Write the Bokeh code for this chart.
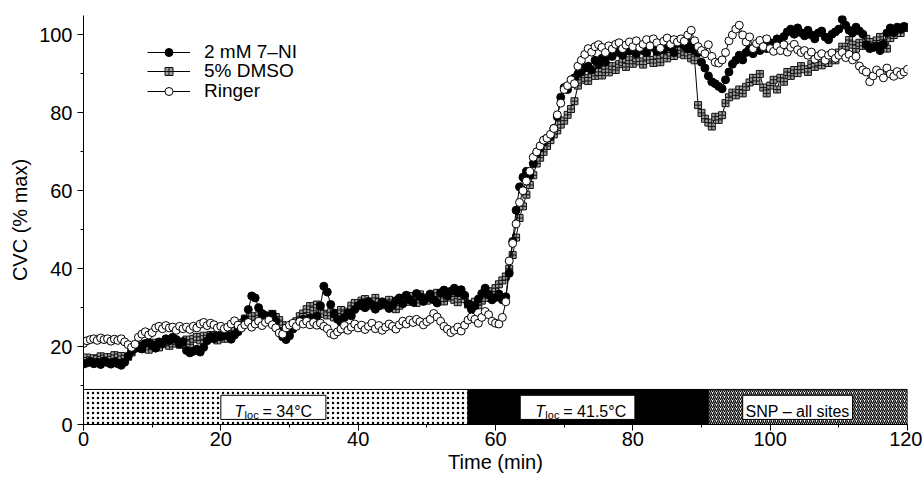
from bokeh.plotting import figure
from bokeh.models import Range1d, SingleIntervalTicker, Legend, LegendItem, Label
from bokeh.embed import file_html
from bokeh.resources import INLINE

# sample times (min), one reading every 0.5 min
time_min = [i * 0.5 for i in range(241)]

ni7 = [
    15.5, 15.8, 16.2, 15.6, 16.0, 15.4, 16.3, 15.9, 15.5, 16.1,
    15.6, 15.2, 16.0, 17.5, 18.8, 19.5, 20.2, 19.4, 20.8, 21.0,
    20.5, 19.6, 21.2, 20.8, 22.0, 21.5, 22.4, 21.8, 20.6, 21.3,
    19.0, 18.4, 18.8, 19.3, 18.6, 19.8, 21.5, 22.6, 22.0, 23.2,
    22.5, 23.4, 22.8, 21.9, 23.0, 23.8, 25.0, 27.0, 29.5, 33.0,
    32.5, 30.0, 28.5, 28.0, 27.5, 28.2, 26.5, 24.0, 22.5, 21.8,
    22.8, 24.5, 25.7, 26.5, 27.0, 26.2, 27.4, 26.8, 27.8, 30.5,
    35.5, 34.0, 30.8, 28.5, 27.0, 26.2, 27.5, 28.6, 27.9, 29.5,
    30.5, 31.2, 30.0, 31.6, 30.8, 29.6, 30.4, 31.5, 30.9, 29.8,
    30.6, 31.8, 32.5, 31.0, 33.2, 32.0, 31.4, 33.6, 32.8, 31.6,
    32.4, 33.5, 32.0, 31.2, 33.8, 34.5, 33.0, 34.2, 35.0, 33.8,
    34.6, 33.2, 31.0, 29.6, 30.5, 32.2, 33.6, 35.0, 33.4, 32.0,
    32.6, 33.5, 32.0, 32.8, 38.8, 47.0, 55.0, 61.0, 63.5, 65.0,
    64.0, 67.0, 69.5, 71.0, 72.5, 73.5, 74.0, 76.0, 79.0, 84.0,
    86.5, 86.0, 87.5, 89.0, 90.0, 90.5, 91.5, 92.0, 91.0, 93.5,
    92.5, 94.0, 93.0, 95.0, 94.5, 96.0, 95.5, 94.8, 96.5, 95.8,
    96.5, 95.2, 97.0, 96.0, 95.5, 97.2, 96.8, 95.8, 97.5, 96.2,
    97.6, 96.8, 95.5, 97.9, 98.4, 97.2, 96.5, 98.0, 96.0, 95.5,
    93.0, 91.5, 89.5, 88.0, 87.5, 86.8, 86.2, 88.5, 90.5, 92.5,
    93.5, 94.8, 93.6, 95.5, 96.5, 95.2, 97.0, 96.0, 97.8, 96.5,
    98.0, 97.2, 99.0, 98.4, 99.6, 100.8, 101.5, 100.2, 101.8, 100.6,
    99.8, 101.2, 100.0, 99.0, 100.5, 101.0, 99.5, 98.8, 100.2, 100.8,
    101.5, 104.0, 102.5, 101.2, 100.5, 102.0, 101.0, 100.2, 97.5, 96.5,
    96.8, 97.2, 96.0, 97.6, 100.5, 101.8, 100.6, 102.0, 101.5, 102.2,
    102.0,
]

dmso = [
    16.8, 17.2, 16.5, 17.0, 16.8, 17.5, 16.9, 17.3, 16.6, 17.8,
    17.2, 17.6, 16.9, 17.4, 18.5, 19.8, 20.3, 19.5, 20.6, 19.2,
    20.4, 21.0, 19.8, 20.6, 21.4, 20.2, 20.8, 21.5, 20.5, 21.2,
    21.8, 20.6, 22.0, 22.5, 21.6, 22.8, 22.0, 23.0, 22.2, 21.6,
    22.8, 22.0, 23.4, 23.8, 25.0, 26.0, 25.4, 27.2, 26.5, 27.8,
    26.8, 28.0, 27.2, 26.6, 27.5, 28.4, 27.6, 26.8, 25.5, 24.8,
    24.6, 25.8, 26.5, 27.8, 28.5, 29.6, 30.4, 29.2, 30.8, 29.5,
    28.4, 28.0, 28.8, 27.5, 28.6, 29.4, 28.2, 29.0, 30.5, 31.2,
    30.4, 31.8, 32.2, 31.0, 30.5, 32.5, 31.4, 30.6, 31.2, 32.0,
    30.8, 29.6, 30.5, 32.4, 31.5, 33.0, 32.0, 31.2, 33.4, 32.6,
    31.8, 33.2, 32.4, 33.8, 32.8, 31.6, 32.6, 33.5, 32.0, 31.4,
    33.0, 32.2, 30.8, 30.2, 31.5, 30.6, 31.8, 32.5, 33.4, 34.2,
    35.0, 36.0, 37.0, 38.0, 40.0, 43.5, 48.0, 53.0, 56.0, 59.0,
    61.5, 64.0, 67.0, 68.5, 70.0, 71.5, 73.0, 74.5, 75.5, 77.0,
    78.0, 79.5, 81.0, 83.0, 87.0, 88.5, 89.0, 88.2, 90.0, 89.5,
    90.5, 89.6, 91.2, 90.4, 92.0, 91.0, 92.5, 93.0, 91.8, 93.5,
    92.6, 94.0, 93.2, 92.4, 94.5, 93.6, 92.8, 94.8, 93.0, 95.2,
    94.0, 95.5, 94.6, 96.0, 95.2, 94.8, 95.5, 94.0, 93.5, 82.0,
    80.0, 78.5, 77.5, 76.5, 79.0, 78.2, 79.4, 82.5, 84.0, 85.2,
    84.5, 86.0, 85.0, 86.7, 87.8, 89.0, 88.2, 90.0, 86.5, 85.0,
    87.0, 88.5, 86.0, 89.0, 88.0, 90.5, 89.5, 91.0, 90.2, 92.0,
    91.2, 90.5, 92.5, 91.8, 93.0, 92.2, 93.6, 92.8, 94.2, 93.5,
    95.5, 97.0, 96.2, 98.7, 97.5, 96.5, 98.0, 97.2, 99.0, 98.2,
    97.0, 98.6, 99.5, 98.0, 96.5, 99.2, 100.0, 101.5, 100.5, 102.0,
    101.8,
]

ringer = [
    20.8, 21.5, 21.8, 22.0, 21.6, 22.2, 21.8, 22.0, 21.4, 21.9,
    21.6, 22.0, 21.2, 20.5, 19.8, 20.6, 22.4, 23.2, 23.8, 23.0,
    23.6, 24.8, 25.2, 24.6, 25.4, 24.8, 25.0, 24.2, 25.2, 24.6,
    25.0, 24.4, 25.2, 24.8, 25.8, 26.2, 25.4, 26.0, 25.6, 24.8,
    25.2, 24.6, 25.0, 25.8, 26.6, 25.5, 24.8, 25.6, 26.2, 25.0,
    25.8, 26.5, 25.4, 26.2, 26.8, 25.6, 24.8, 23.5, 23.2, 24.8,
    25.5, 26.0, 25.2, 26.4, 25.8, 26.5, 25.6, 26.2, 25.5, 26.0,
    25.2, 24.6, 23.4, 23.0, 23.8, 24.5, 25.4, 24.2, 25.0, 25.8,
    24.8, 25.5, 24.4, 25.2, 26.0, 24.6, 25.4, 24.2, 25.0, 25.8,
    25.2, 24.5, 25.6, 26.5, 25.8, 26.8, 26.2, 27.0, 26.4, 25.6,
    26.4, 27.0, 28.5, 27.6, 26.5, 25.2, 24.5, 23.6, 24.2, 25.0,
    24.0, 25.5, 26.8, 27.6, 27.0, 26.0, 27.5, 29.0, 28.2, 26.5,
    26.0, 25.8, 27.5, 31.5, 42.0, 46.5, 51.5, 57.0, 60.0, 62.5,
    65.0, 68.6, 70.0, 71.5, 73.0, 73.5, 74.5, 76.0, 79.5, 82.5,
    86.0, 87.0, 88.5, 87.5, 92.0, 93.5, 95.0, 96.5, 95.6, 97.0,
    97.5, 96.8, 95.5, 97.2, 96.4, 97.6, 98.0, 96.5, 97.4, 98.2,
    97.0, 98.5, 96.8, 97.6, 98.8, 97.2, 99.0, 98.0, 96.6, 98.4,
    99.2, 97.6, 98.8, 98.2, 99.0, 98.4, 100.0, 101.2, 98.5, 97.0,
    96.0, 95.2, 97.5, 94.5, 93.0, 92.8, 93.6, 95.5, 98.5, 100.0,
    101.5, 102.5, 100.0, 98.2, 99.5, 96.5, 97.8, 98.6, 97.0, 99.0,
    96.5, 95.8, 97.2, 96.0, 97.5, 95.6, 96.8, 97.6, 96.2, 95.5,
    96.0, 94.8, 95.6, 93.8, 94.6, 95.2, 93.5, 94.8, 95.4, 94.0,
    94.8, 95.5, 94.2, 95.0, 93.6, 94.5, 92.0, 91.0, 90.5, 88.0,
    89.5, 91.0, 90.2, 89.0, 91.5, 90.0, 89.4, 90.6, 89.8, 90.5,
    91.2,
]

# protocol phases along the time axis
phase_start = [0, 56, 91]
phase_end = [56, 91, 120]
phase_names = ["Tloc = 34°C", "Tloc = 41.5°C", "SNP – all sites"]
series_names = ["2 mM 7–NI", "5% DMSO", "Ringer"]

FONT = "Liberation Sans"

p = figure(width=922, height=478, x_range=Range1d(0, 120), y_range=Range1d(0, 105),
           output_backend="svg", toolbar_location=None,
           min_border_left=83, min_border_right=15, min_border_top=15, min_border_bottom=54)
p.outline_line_color = None
p.xgrid.visible = False
p.ygrid.visible = False
p.background_fill_color = "white"
p.border_fill_color = "white"

for ax in (p.xaxis[0], p.yaxis[0]):
    ax.ticker = SingleIntervalTicker(interval=20, num_minor_ticks=2)
    ax.axis_line_color = "black"
    ax.major_tick_line_color = "black"
    ax.minor_tick_line_color = "black"
    ax.major_tick_in = 0
    ax.major_tick_out = 6
    ax.minor_tick_in = 0
    ax.minor_tick_out = 3
    ax.major_label_text_font = FONT
    ax.major_label_text_font_size = "20px"
    ax.major_label_text_color = "black"
    ax.axis_label_text_font = FONT
    ax.axis_label_text_font_size = "20px"
    ax.axis_label_text_font_style = "normal"
    ax.axis_label_text_color = "black"

p.xaxis.axis_label = "Time (min)"
p.xaxis.major_label_standoff = 1
p.xaxis.axis_label_standoff = 2
p.yaxis.axis_label = "CVC (% max)"
p.yaxis.major_label_standoff = 5

# protocol bar
p.quad(left=[phase_start[0]], right=[phase_end[0]], bottom=0, top=9, fill_color="white",
       line_color="black", line_width=1, hatch_pattern="dot", hatch_scale=5, hatch_weight=0.5,
       hatch_color="black")
p.quad(left=[phase_start[1]], right=[phase_end[1]], bottom=0, top=9, fill_color="black",
       line_color="black", line_width=1)
p.quad(left=[phase_start[2]], right=[phase_end[2]], bottom=0, top=9, fill_color="white",
       line_color="black", line_width=1, hatch_pattern="right_diagonal_line", hatch_scale=4,
       hatch_weight=1.3, hatch_color="black")

# white label boxes
p.quad(left=[20.0, 63.6, 96.0], right=[35.3, 80.3, 112.0], bottom=1.3, top=7.5,
       fill_color="white", line_color="black", line_width=1)

def tloc(x0, rest):
    p.add_layout(Label(x=x0, y=3.3, text="T", text_font=FONT, text_font_size="16px",
                       text_font_style="italic", text_baseline="alphabetic", text_color="black"))
    p.add_layout(Label(x=x0, y=3.3, x_offset=10, y_offset=-3, text="loc", text_font=FONT,
                       text_font_size="11px", text_baseline="alphabetic", text_color="black"))
    p.add_layout(Label(x=x0, y=3.3, x_offset=28, text=rest, text_font=FONT, text_font_size="16px",
                       text_baseline="alphabetic", text_color="black"))

tloc(22.0, "= 34°C")
tloc(65.8, "= 41.5°C")
p.add_layout(Label(x=104.0, y=3.3, text=phase_names[2], text_font=FONT, text_font_size="16px",
                   text_align="center", text_baseline="alphabetic", text_color="black"))

# data series (DMSO bottom, 7-NI middle, Ringer on top)
d_line = p.line(time_min, dmso, line_color="black", line_width=1)
d_pts = p.scatter(time_min, dmso, marker="square_cross", size=7, fill_color="#9c9c9c",
                  line_color="#111111", line_width=1)
n_line = p.line(time_min, ni7, line_color="black", line_width=1)
n_pts = p.scatter(time_min, ni7, marker="circle", size=8, fill_color="black",
                  line_color="black", line_width=1)
r_line = p.line(time_min, ringer, line_color="black", line_width=1)
r_pts = p.scatter(time_min, ringer, marker="circle", size=8, fill_color="white",
                  line_color="black", line_width=1)

# one legend per entry so that rows sit exactly where the reference has them
ROW = 20
for name, rends, ypos in [(series_names[0], [n_line, n_pts], 424 - 52.5 - ROW / 2),
                          (series_names[1], [d_line, d_pts], 424 - 72 - ROW / 2),
                          (series_names[2], [r_line, r_pts], 424 - 91.5 - ROW / 2)]:
    lg = Legend(items=[LegendItem(label=name, renderers=rends)], location=(64, ypos))
    lg.background_fill_alpha = 0
    lg.border_line_alpha = 0
    lg.padding = 0
    lg.margin = 0
    lg.spacing = 0
    lg.glyph_width = 43
    lg.glyph_height = ROW
    lg.label_height = ROW
    lg.label_standoff = 14
    lg.label_text_font = FONT
    lg.label_text_font_size = "19px"
    lg.label_text_color = "black"
    lg.label_text_baseline = "middle"
    p.add_layout(lg)

open("out.html", "w").write(file_html(p, INLINE))
